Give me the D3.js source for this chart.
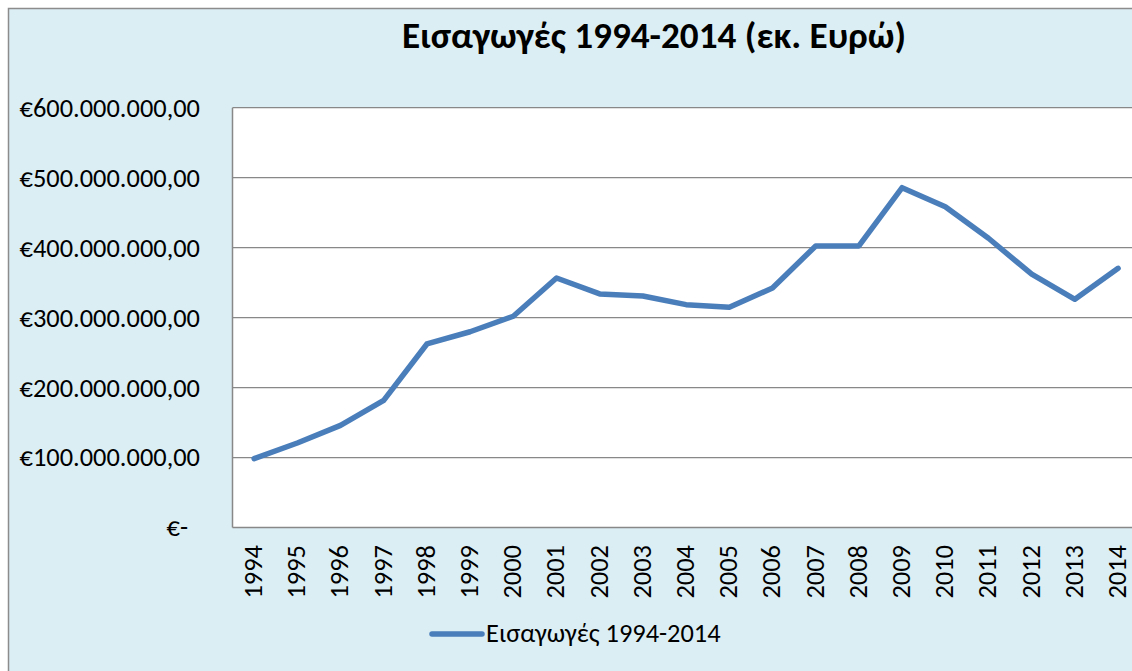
<!DOCTYPE html>
<html>
<head>
<meta charset="utf-8">
<script src="https://cdn.jsdelivr.net/npm/d3@7"></script>
<style>
  html, body { margin: 0; padding: 0; background: #ffffff; }
  svg { display: block; }
  text { font-family: Carlito, "Open Sans", "Noto Sans", sans-serif; fill: #000; }
</style>
</head>
<body>
<svg id="chart" width="1132" height="671"></svg>
<script>
const years = ["1994","1995","1996","1997","1998","1999","2000","2001","2002","2003","2004","2005","2006","2007","2008","2009","2010","2011","2012","2013","2014"];
const imports = [98.4e6, 120.8e6, 146e6, 181.7e6, 262.3e6, 279.8e6, 301.9e6, 356.6e6, 333.8e6, 330.9e6, 318.5e6, 314.7e6, 342.3e6, 402.4e6, 402.4e6, 485.7e6, 458.5e6, 413.4e6, 362e6, 326.2e6, 370.4e6];
const yTicks = [0, 100e6, 200e6, 300e6, 400e6, 500e6, 600e6];
const seriesName = "Εισαγωγές 1994-2014";
const titleText = "Εισαγωγές 1994-2014 (εκ. Ευρώ)";

const svg = d3.select("#chart");
const W = 1132, H = 671;
const plot = { left: 232.5, top: 107.7, bottom: 527.5 };
const band = 43.2;
plot.right = plot.left + band * years.length;
const labelSize = 26.4;

// chart background & border
svg.append("rect").attr("x", 8.5).attr("y", 8.5).attr("width", W + 20).attr("height", H + 20)
  .attr("fill", "#DBEEF4").attr("stroke", "#8C8C8C").attr("stroke-width", 1.5);

const x = d3.scalePoint().domain(years).range([plot.left, plot.right]).padding(0.5);
const y = d3.scaleLinear().domain([0, 600e6]).range([plot.bottom, plot.top]);

// plot area
svg.append("rect").attr("x", plot.left).attr("y", plot.top)
  .attr("width", plot.right - plot.left).attr("height", plot.bottom - plot.top)
  .attr("fill", "#ffffff");

// gridlines
svg.append("g").selectAll("line").data(yTicks.filter(d => d > 0)).join("line")
  .attr("x1", plot.left).attr("x2", plot.right)
  .attr("y1", d => y(d)).attr("y2", d => y(d))
  .attr("stroke", "#888888").attr("stroke-width", 1.3);

// axes lines
svg.append("line").attr("x1", plot.left).attr("x2", plot.left).attr("y1", plot.top).attr("y2", plot.bottom)
  .attr("stroke", "#888888").attr("stroke-width", 1.5);
svg.append("line").attr("x1", plot.left).attr("x2", plot.right).attr("y1", plot.bottom).attr("y2", plot.bottom)
  .attr("stroke", "#888888").attr("stroke-width", 1.5);

// y labels
function fmt(v) {
  if (v === 0) return "€-";
  const s = d3.format(",.2f")(v);
  return "€" + s.replace(/,/g, "#").replace(".", ",").replace(/#/g, ".");
}
const yAxis = d3.axisLeft(y).tickValues(yTicks).tickFormat(fmt).tickSize(0).tickPadding(0);
const yg = svg.append("g").attr("transform", `translate(${200},0)`).call(yAxis);
yg.select(".domain").remove();
yg.selectAll("text").attr("font-size", labelSize).attr("dy", "0.32em")
  .attr("dx", d => d === 0 ? -12 : 0)
  .style("font-family", 'Carlito, "Open Sans", sans-serif');

// x labels
const xAxis = d3.axisBottom(x).tickSize(0).tickPadding(0);
const xg = svg.append("g").attr("transform", `translate(0,${545})`).call(xAxis);
xg.select(".domain").remove();
xg.selectAll("text")
  .attr("transform", "rotate(-90)")
  .attr("text-anchor", "end")
  .attr("x", 0).attr("y", 0)
  .attr("dy", "0.3em")
  .attr("dx", 0)
  .attr("font-size", labelSize)
  .style("font-family", 'Carlito, "Open Sans", sans-serif');
xg.selectAll(".tick").attr("transform", d => `translate(${x(d)},0)`);

// line
const line = d3.line().x((d, i) => x(years[i])).y(d => y(d));
svg.append("path").datum(imports).attr("d", line)
  .attr("fill", "none").attr("stroke", "#4A7EBB").attr("stroke-width", 5.5)
  .attr("stroke-linejoin", "round").attr("stroke-linecap", "round");

// title
svg.append("text").attr("x", 654).attr("y", 47.5).attr("text-anchor", "middle")
  .attr("font-size", 37.2).attr("font-weight", "bold").text(titleText);

// legend
svg.append("line").attr("x1", 432).attr("x2", 482).attr("y1", 634).attr("y2", 634)
  .attr("stroke", "#4A7EBB").attr("stroke-width", 5.5).attr("stroke-linecap", "round");
svg.append("text").attr("x", 486).attr("y", 634).attr("dy", "0.32em")
  .attr("font-size", labelSize).text(seriesName);
</script>
</body>
</html>
